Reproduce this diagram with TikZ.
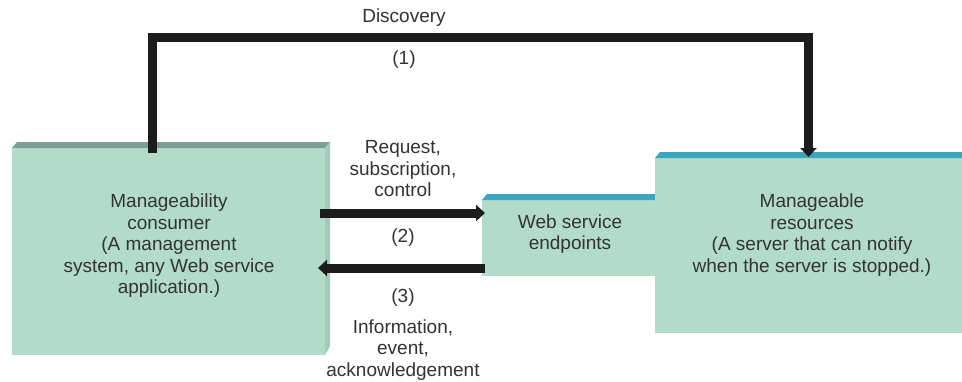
\documentclass[tikz,border=0pt]{standalone}
\usepackage{fontspec}
\setmainfont{Liberation Sans}
\usetikzlibrary{calc,arrows.meta}
\definecolor{boxfill}{HTML}{B3DBC9}
\definecolor{sidecol}{HTML}{A2CBBA}
\definecolor{topgrey}{HTML}{7D9E98}
\definecolor{topteal}{HTML}{3BA7BF}
\definecolor{txtcol}{HTML}{333333}
\definecolor{arrowcol}{HTML}{1C1C1C}
\begin{document}
\begin{tikzpicture}[x=1pt,y=-1pt,
  frontface/.style={rectangle, fill=boxfill, draw=none, inner sep=0pt, outer sep=0pt},
  txt/.style={text=txtcol, align=center, font=\fontsize{19}{21.5}\selectfont, inner sep=0pt},
  flow/.style={draw=arrowcol, line width=9pt, line join=miter, -{Triangle[length=9pt,width=16pt]}}]
\useasboundingbox (0,0) rectangle (962,381);
\fill[white] (0,0) rectangle (962,381);

% Manageability consumer box
\node[frontface, minimum width=313pt, minimum height=207pt] (cons) at (168.5,251.5) {};
\fill[topgrey] (cons.north west) -- ++(5,-6) -- ($(cons.north east)+(5,-6)$) -- (cons.north east) -- cycle;
\fill[sidecol] (cons.north east) -- ++(5,-6) -- ++(0,204) -- (cons.south east) -- cycle;

% Web service endpoints box
\node[frontface, minimum width=188pt, minimum height=76pt] (web) at (576,238) {};
\fill[topteal] (web.north west) -- ++(5,-6) -- ($(web.north east)+(0,-6)$) -- (web.north east) -- cycle;

% Manageable resources box
\node[frontface, minimum width=307pt, minimum height=175pt] (res) at (808.5,245.5) {};
\fill[topteal] (res.north west) -- ++(5,-6) -- ($(res.north east)+(0,-6)$) -- (res.north east) -- cycle;

% texts
\node[txt] (constxt) at (169,246) {Manageability\\consumer\\(A management\\system, any Web service\\application.)};
\node[txt] (webtxt) at (570,234) {Web service\\endpoints};
\node[txt] (restxt) at (812,235) {Manageable\\resources\\(A server that can notify\\when the server is stopped.)};
\node[txt] (req) at (403,169) {Request,\\subscription,\\control};
\node[txt] (n2) at (403,238) {(2)};
\node[txt] (n3) at (403,298) {(3)};
\node[txt] (info) at (403,350) {Information,\\event,\\acknowledgement};
\node[txt] (disc) at (404,18) {Discovery};
\node[txt] (n1) at (404,60) {(1)};

% connectors
\coordinate (dtop) at (480,37);
\coordinate (r2) at (400,213);
\coordinate (r3) at (400,268);
\draw[flow] ($(cons.north west)+(140,5)$) |- (dtop) -| ($(res.north)+(0,-1)$);
\draw[flow] ($(cons.east |- r2)+(-5,0)$) -- ($(web.west |- r2)+(3,0)$);
\draw[flow] ($(web.west |- r3)+(3,0)$) -- ($(cons.east |- r3)+(-7,0)$);
\end{tikzpicture}
\end{document}
